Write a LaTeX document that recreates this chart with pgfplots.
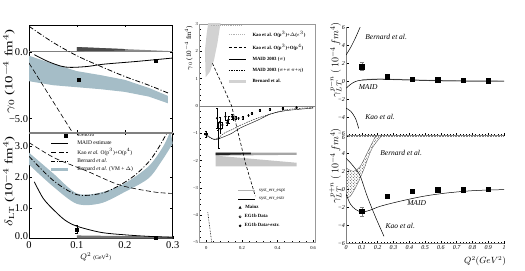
\documentclass[border=0pt]{standalone}
\usepackage{pgfplots}
\pgfplotsset{compat=1.18}
\usepackage{graphicx}
\usepackage{fontspec}
\setmainfont{Liberation Serif}
\usetikzlibrary{patterns}
\usepgfplotslibrary{fillbetween}
\definecolor{bandblue}{RGB}{165,189,199}
\newcommand{\fs}[1]{\fontsize{#1}{#1}\selectfont}
\pgfplotsset{
  lleg/.style={legend image code/.code={\draw[##1] (0pt,0pt) -- (17pt,0pt);}},
  mleg/.style={legend image code/.code={\draw[##1] plot coordinates {(14pt,0pt)};}},
  mlegb/.style={legend image code/.code={\draw[##1] plot coordinates {(2pt,0pt)};}},
  base/.style={scale only axis, anchor=south west,
    /pgf/number format/assume math mode=true,
    tick align=inside, major tick length=2.5pt, minor tick length=1.3pt,
    every tick/.style={black, line width=0.4pt}},
}
\begin{document}
\begin{tikzpicture}
\path (0pt,0pt) rectangle (525pt,-271pt);

% ================= LEFT TOP =================
\begin{axis}[base, at={(28pt,-133pt)}, width=144pt, height=108pt,
  xmin=0, xmax=0.3, ymin=-6.05, ymax=2.0,
  xtick={0.1,0.2}, xticklabels={}, ytick={-5,0}, yticklabels={−5.0,0.0},
  yticklabel style={font=\fs{10.5}, inner sep=0.8pt},
  ylabel={\scalebox{1.35}[1]{$\gamma_0$ (10$^{-4}$ fm$^4$)}},
  ylabel style={font=\fs{11}, at={(axis description cs:-0.139,0.57)}, anchor=center},
  axis line style={black, line width=0.6pt}]
\addplot[gray, line width=0.5pt] coordinates {(0,0) (0.3,0)};
\addplot[fill=black!45, draw=none] coordinates {(0.1,0) (0.1,0.35) (0.3,0.04) (0.3,0)} -- cycle;
\addplot[fill=black!70, draw=none] coordinates {(0.1,0.05) (0.1,0.35) (0.2,0.2) (0.2,0.08)} -- cycle;
\addplot[name path=tu, draw=none] coordinates {(0,-0.3) (0.05,-0.9) (0.1,-1.45) (0.15,-1.75) (0.2,-2.1) (0.25,-2.7) (0.29,-3.3)};
\addplot[name path=tl, draw=none] coordinates {(0,-2.2) (0.05,-2.5) (0.1,-2.65) (0.15,-2.8) (0.2,-3.0) (0.25,-3.35) (0.29,-3.85)};
\addplot[bandblue] fill between[of=tu and tl];
\addplot[black, line width=0.8pt, smooth] coordinates {(0.011,-0.22) (0.039,-0.72) (0.067,-1.08) (0.0875,-1.17) (0.122,-1.1) (0.156,-0.93) (0.226,-0.72) (0.3,-0.47)};
\addplot[black, line width=0.6pt, dash pattern=on 5pt off 2.5pt] coordinates {(0,-0.85) (0.091,-6.05)};
\addplot[black, line width=0.8pt, dash pattern=on 5pt off 2pt on 1pt off 2pt, smooth] coordinates {(0,1.9) (0.05,0.7) (0.1,-0.3) (0.15,-1.1) (0.2,-1.85) (0.25,-2.5) (0.29,-3.08)};
\addplot[only marks, mark=square*, mark size=1.5pt] coordinates {(0.103,-2.09) (0.265,-0.67)};
\end{axis}

% ================= LEFT BOTTOM =================
\begin{axis}[base, at={(28pt,-239pt)}, width=144pt, height=106pt,
  xmin=0, xmax=0.3, ymin=0, ymax=3.45,
  xtick={0,0.1,0.2,0.3}, xticklabels={0,0.1,0.2,0.3},
  ytick={1,2,3}, yticklabels={1.0,2.0,3.0},
  extra y ticks={0}, extra y tick labels={0.0},
  extra y tick style={yticklabel style={yshift=2.5pt}},
  tick label style={font=\fs{10.5}}, yticklabel style={inner sep=0.8pt},
  xticklabel style={inner sep=2.5pt},
  ylabel={\scalebox{1.35}[1]{$\delta_{\mathrm{LT}}$ (10$^{-4}$ fm$^4$)}},
  ylabel style={font=\fs{11}, at={(axis description cs:-0.139,0.54)}, anchor=center},
  xlabel={$Q^2$ {\fs{5.5}(GeV$^2$)}},
  xlabel style={font=\fs{8}, at={(axis description cs:0.465,-0.175)}, anchor=center},
  axis line style={black, line width=0.6pt},
  legend style={at={(axis cs:0.043,3.47)}, anchor=north west, draw=none, fill=none,
    font=\fs{5.5}, row sep=1.6pt, inner sep=0pt, nodes={inner sep=0.6pt},
    /tikz/every odd column/.append style={column sep=7pt}},
  legend cell align=left]
\addlegendimage{mleg, only marks, mark=square*, mark size=1.5pt, black}
\addlegendentry{E94010}
\addlegendimage{lleg, black, line width=0.8pt}
\addlegendentry{MAID estimate}
\addlegendimage{lleg, black, line width=0.6pt, dash pattern=on 5pt off 2.5pt}
\addlegendentry{Kao \textit{et al.} O(p$^3$)+O(p$^4$)}
\addlegendimage{lleg, black, line width=0.8pt, dash pattern=on 4pt off 1.5pt on 1pt off 1.5pt}
\addlegendentry{Bernard \textit{et al.}}
\addlegendimage{lleg, bandblue, line width=3pt}
\addlegendentry{Bernard \textit{et al.} (VM + $\Delta$)}
\addplot[fill=black!55, draw=none, forget plot] coordinates {(0.1,0) (0.1,0.1) (0.3,0.06) (0.3,0)} -- cycle;
\addplot[name path=bu, draw=none, forget plot, smooth] coordinates {(0,2.8) (0.05,2.13) (0.1,1.47) (0.15,1.5) (0.2,1.8) (0.25,2.36) (0.28,3.0) (0.295,3.5)};
\addplot[name path=bl, draw=none, forget plot, smooth] coordinates {(0,2.41) (0.05,1.7) (0.1,1.13) (0.15,1.15) (0.2,1.52) (0.25,1.97) (0.28,2.6) (0.3,3.1)};
\addplot[bandblue, forget plot] fill between[of=bu and bl];
\addplot[black, line width=0.6pt, dash pattern=on 5pt off 2.5pt, smooth, forget plot] coordinates {(0,3.13) (0.053,2.63) (0.122,2.19) (0.19,1.74) (0.26,1.52) (0.3,1.47)};
\addplot[black, line width=0.8pt, dash pattern=on 5pt off 2pt on 1pt off 2pt, smooth, forget plot] coordinates {(0,2.68) (0.05,1.9) (0.1,1.43) (0.15,1.47) (0.185,1.7) (0.22,2.05) (0.25,2.5) (0.27,2.95) (0.29,3.5)};
\addplot[black, line width=0.8pt, smooth, forget plot] coordinates {(0.011,1.85) (0.03,1.3) (0.053,0.91) (0.075,0.6) (0.1,0.4) (0.15,0.2) (0.2,0.12) (0.25,0.07) (0.3,0.04)};
\addplot[only marks, mark=square*, mark size=1.5pt, black, forget plot,
  error bars/.cd, y dir=both, y explicit] coordinates {(0.1,0.3) +- (0,0.12) (0.265,0.03) +- (0,0.03)};
\end{axis}
\draw[gray, line width=1.6pt] (28pt,-133pt) -- (172pt,-133pt);

% ================= MIDDLE =================
\begin{axis}[base, at={(199pt,-243pt)}, width=116pt, height=219pt,
  xmin=-0.0376, xmax=0.613, ymin=-5, ymax=3,
  xtick={0,0.2,0.4,0.6}, xticklabels={0,0.2,0.4,0.6},
  ytick={-5,-4,-3,-2,-1,0,1,2,3}, yticklabels={−5,−4,−3,−2,−1,0,1,2,3},
  minor x tick num=4, minor y tick num=4,
  xtick pos=left, ytick pos=left,
  tick label style={font=\fs{4.6}}, yticklabel style={inner sep=1.5pt},
  axis line style={gray!80, line width=0.5pt},
  ylabel={$\gamma_0$ (10$^{-4}$ fm$^4$)},
  ylabel style={font=\fs{7}, at={(axis description cs:-0.095,0.89)}, anchor=center},
  legend style={at={(axis cs:0.118,2.76)}, anchor=north west, draw=none, fill=none,
    font=\fs{4.8}\bfseries, row sep=5.2pt, inner sep=0pt, nodes={inner sep=0.5pt},
    /tikz/every odd column/.append style={column sep=5pt}},
  legend cell align=left]
\addlegendimage{lleg, gray!60, line width=0.9pt, densely dotted}
\addlegendentry{Kao et al. O(p$^3$)+$\Delta$($\epsilon^3$)}
\addlegendimage{lleg, black, line width=0.6pt, densely dashed}
\addlegendentry{Kao et al. O(p$^3$)+O(p$^4$)}
\addlegendimage{lleg, black, line width=0.4pt}
\addlegendentry{MAID 2003 ($\pi$)}
\addlegendimage{lleg, black, line width=0.4pt, dash pattern=on 1.5pt off 1pt}
\addlegendentry{MAID 2003 ($\pi$+$\pi\pi$+$\eta$)}
\addlegendimage{lleg, gray!35, line width=2.5pt}
\addlegendentry{Bernard et al.}
\addplot[fill=gray!35, draw=none, forget plot] coordinates {(-0.004,1.05) (-0.008,2.04) (0.002,2.65) (0.011,3.05) (0.08,3.05) (0.062,2.29) (0.043,1.68) (0.02,1.25)} -- cycle;
\addplot[gray!60, line width=0.9pt, densely dotted, forget plot] coordinates {(0.024,2.94) (0.2,2.94)};
\addplot[gray, line width=0.5pt, forget plot] coordinates {(-0.04,0) (0.62,0)};
\addplot[fill=gray!45, draw=none, forget plot] coordinates {(0.052,-1.82) (0.507,-2.08) (0.507,-2.21) (0.052,-2.21)} -- cycle;
\addplot[fill=gray!70, draw=none, forget plot] coordinates {(0.052,-1.71) (0.507,-1.71) (0.507,-1.79) (0.052,-1.82)} -- cycle;
\addplot[fill=black!85, draw=none, forget plot] coordinates {(0.052,-1.71) (0.25,-1.71) (0.25,-1.77) (0.052,-1.8)} -- cycle;
\addplot[black, line width=0.6pt, densely dashed, forget plot] coordinates {(0.034,1.56) (0.1,0.62) (0.142,0) (0.22,-2.1) (0.275,-3.3)};
\addplot[black, line width=0.6pt, densely dotted, forget plot] coordinates {(0.008,-3.9) (0.03,-5.0)};
\addplot[black, line width=0.4pt, smooth, forget plot] coordinates {(-0.01,-1.05) (0.02,-1.15) (0.05,-1.24) (0.09,-1.15) (0.144,-1.0) (0.19,-0.81) (0.293,-0.51) (0.36,-0.3) (0.45,-0.17) (0.6,-0.08)};
\addplot[black, line width=0.4pt, smooth, dash pattern=on 1.5pt off 1pt, forget plot] coordinates {(-0.005,-1.0) (0.03,-1.2) (0.06,-1.2) (0.1,-1.0) (0.15,-0.85) (0.2,-0.68) (0.3,-0.42) (0.45,-0.14) (0.6,-0.06)};
\addplot[only marks, mark=triangle*, mark size=1.3pt, black, forget plot,
  error bars/.cd, y dir=both, y explicit, x dir=both, x explicit] coordinates {(-0.002,-1.03) +- (0.008,0.1)};
\addplot[only marks, mark=*, mark size=0.9pt, black, forget plot,
  error bars/.cd, y dir=both, y explicit] coordinates {
  (0.06,-0.45) +- (0,0.35) (0.069,-1.18) +- (0,0.35) (0.075,-0.6) +- (0,0.2)
  (0.107,-0.39) +- (0,0.15) (0.125,-0.5) +- (0,0.12) (0.144,-0.39) +- (0,0.08)
  (0.43,-0.09) +- (0,0.03) (0.507,-0.05) +- (0,0.03)};
\addplot[only marks, mark=o, mark size=0.9pt, black, forget plot,
  error bars/.cd, y dir=both, y explicit] coordinates {
  (0.065,-0.75) +- (0,0.15) (0.08,-0.85) +- (0,0.15) (0.09,-0.7) +- (0,0.1) (0.115,-0.62) +- (0,0.1)
  (0.153,-0.45) +- (0,0.06) (0.166,-0.43) +- (0,0.05) (0.181,-0.45) +- (0,0.05)
  (0.205,-0.43) +- (0,0.04) (0.237,-0.35) +- (0,0.04) (0.256,-0.27) +- (0,0.03) (0.301,-0.15) +- (0,0.03) (0.357,-0.12) +- (0,0.03)};
\end{axis}
% lower legend of middle panel
\begin{axis}[base, at={(199pt,-243pt)}, width=116pt, height=219pt,
  xmin=-0.0376, xmax=0.613, ymin=-5, ymax=3, hide axis,
  legend style={at={(axis cs:0.174,-3.0)}, anchor=north west, draw=none, fill=none,
    font=\fs{4.8}, row sep=3.2pt, inner sep=0pt, nodes={inner sep=0.5pt},
    /tikz/every odd column/.append style={column sep=3pt}},
  legend cell align=left]
\addplot[draw=none, forget plot] coordinates {(0,0)};
\addlegendimage{lleg, gray!60, line width=1.2pt}
\addlegendentry{syst\_err\_expt}
\addlegendimage{lleg, black, line width=0.6pt}
\addlegendentry{syst\_err\_extr}
\addlegendimage{mlegb, only marks, mark=triangle*, mark size=1.3pt, black}
\addlegendentry{\hspace*{-14.5pt}\bfseries Mainz}
\addlegendimage{mlegb, only marks, mark=o, mark size=1.1pt, black}
\addlegendentry{\hspace*{-14.5pt}\bfseries EG1b Data}
\addlegendimage{mlegb, only marks, mark=*, mark size=1.1pt, black}
\addlegendentry{\hspace*{-14.5pt}\bfseries EG1b Data+extr.}
\end{axis}

% ================= RIGHT TOP =================
\begin{axis}[base, at={(345.7pt,-136pt)}, width=158.3pt, height=108.7pt,
  xmin=0, xmax=1, ymin=-6, ymax=6,
  axis x line*=bottom, axis y line*=left,
  xtick={0,0.1,0.2,0.3,0.4,0.5,0.6,0.7,0.8,0.9,1}, xticklabels={},
  ytick={-4,-2,0,2,4,6}, yticklabels={−4,−2,0,2,4,6},
  extra y ticks={-6}, extra y tick labels={−6},
  extra y tick style={yticklabel style={yshift=2.2pt}},
  minor x tick num=4, minor y tick num=1,
  tick label style={font=\fs{6}\itshape}, yticklabel style={inner sep=1pt},
  axis line style={gray, line width=0.5pt},
  ylabel={$\gamma_{LT}^{p-n}\;(\,10^{-4}\,fm^{4})$},
  ylabel style={font=\fs{10}, at={(axis description cs:-0.068,0.70)}, anchor=center}]
\addplot[black, line width=0.5pt, smooth] coordinates {(0,2.94) (0.03,3.8) (0.06,4.85) (0.09,6.05)};
\addplot[black, line width=0.5pt, smooth] coordinates {(0,-2.95) (0.03,-3.3) (0.06,-4.1) (0.08,-5.2)};
\addplot[gray!60, line width=1.2pt, smooth] coordinates {(0.1,0.18) (0.2,0.26) (0.3,0.23) (0.5,0.13) (0.7,0.07) (1.0,0.04)};
\addplot[black, line width=0.5pt, smooth] coordinates {(0,-0.75) (0.03,-0.3) (0.06,0.0) (0.1,0.15) (0.2,0.25) (0.3,0.22) (0.5,0.12) (0.7,0.06) (1.0,0.03)};
\addplot[only marks, mark=square*, mark size=2.2pt, black,
  error bars/.cd, y dir=both, y explicit, error bar style={gray}] coordinates {
  (0.1,1.65) +- (0,0.45) (0.26,0.55) +- (0,0.2) (0.42,0.26) +- (0,0.15)
  (0.58,0.19) +- (0,0.1) (0.74,0.11) +- (0,0.1) (0.9,0.08) +- (0,0.1)};
\node[font=\fs{7.5}\itshape, anchor=west] at (axis cs:0.1,4.9) {Bernard et al.};
\node[font=\fs{7.5}\itshape, anchor=west] at (axis cs:0.058,-0.65) {MAID};
\node[font=\fs{7.5}\itshape, anchor=west] at (axis cs:0.1,-3.95) {Kao et al.};
\end{axis}

% ================= RIGHT BOTTOM =================
\begin{axis}[base, at={(345.7pt,-244pt)}, width=158.3pt, height=108pt,
  xmin=0, xmax=1, ymin=-6, ymax=6,
  axis x line*=bottom, axis y line*=left,
  xtick={0,0.1,0.2,0.3,0.4,0.5,0.6,0.7,0.8,0.9,1}, xticklabels={0,0.1,0.2,0.3,0.4,0.5,0.6,0.7,0.8,0.9,1},
  ytick={-6,-4,-2,0,2,4}, yticklabels={−6,−4,−2,0,2,4},
  extra y ticks={6}, extra y tick labels={6},
  extra y tick style={yticklabel style={yshift=-2.2pt}},
  minor x tick num=4, minor y tick num=1,
  tick label style={font=\fs{6}\itshape}, yticklabel style={inner sep=1pt},
  xticklabel style={inner sep=1.5pt},
  axis line style={gray, line width=0.5pt},
  ylabel={$\gamma_{LT}^{p+n}\;(\,10^{-4}\,fm^{4})$},
  ylabel style={font=\fs{10}, at={(axis description cs:-0.068,0.72)}, anchor=center},
  xlabel={$Q^2(GeV^2)$},
  xlabel style={font=\fs{9}, at={(axis description cs:0.88,-0.165)}, anchor=center}]
\addplot[gray, densely dotted, line width=0.6pt] coordinates {(0,5.95) (1,5.95)};
\addplot[name path=hu, black!70, line width=0.3pt, smooth] coordinates {(0,2.4) (0.048,2.04) (0.09,2.6) (0.133,4.07) (0.175,5.56) (0.19,6.1)};
\addplot[name path=hl, black!70, line width=0.3pt, smooth] coordinates {(0,-0.92) (0.027,-0.74) (0.07,0.56) (0.111,2.2) (0.165,4.6) (0.23,6.1)};
\addplot[pattern=crosshatch dots, pattern color=black!80] fill between[of=hu and hl];
\addplot[black, line width=0.5pt, smooth] coordinates {(0,3.5) (0.027,3.0) (0.06,2.3) (0.09,1.5) (0.133,-0.7) (0.185,-3.0) (0.24,-5.2)};
\addplot[black, line width=0.5pt, smooth] coordinates {(0,-0.5) (0.027,-1.6) (0.06,-2.2) (0.1,-2.5) (0.15,-2.3) (0.217,-1.85) (0.34,-1.3) (0.49,-0.74) (0.64,-0.37) (0.81,-0.11) (1.0,0)};
\addplot[only marks, mark=square*, mark size=2.2pt, black,
  error bars/.cd, y dir=both, y explicit, error bar style={gray}] coordinates {
  (0.1,-2.41) +- (0,0.5) (0.26,-0.74) +- (0,0.2) (0.42,-0.19) +- (0,0.15)
  (0.58,0.0) +- (0,0.1) (0.74,0.0) +- (0,0.1) (0.9,0.07) +- (0,0.1)};
\node[font=\fs{7.5}\itshape, anchor=west] at (axis cs:0.195,4.05) {Bernard et al.};
\node[font=\fs{7.5}\itshape, anchor=west] at (axis cs:0.365,-1.5) {MAID};
\node[font=\fs{7.5}\itshape, anchor=west] at (axis cs:0.228,-4.05) {Kao et al.};
\end{axis}
\end{tikzpicture}
\end{document}
